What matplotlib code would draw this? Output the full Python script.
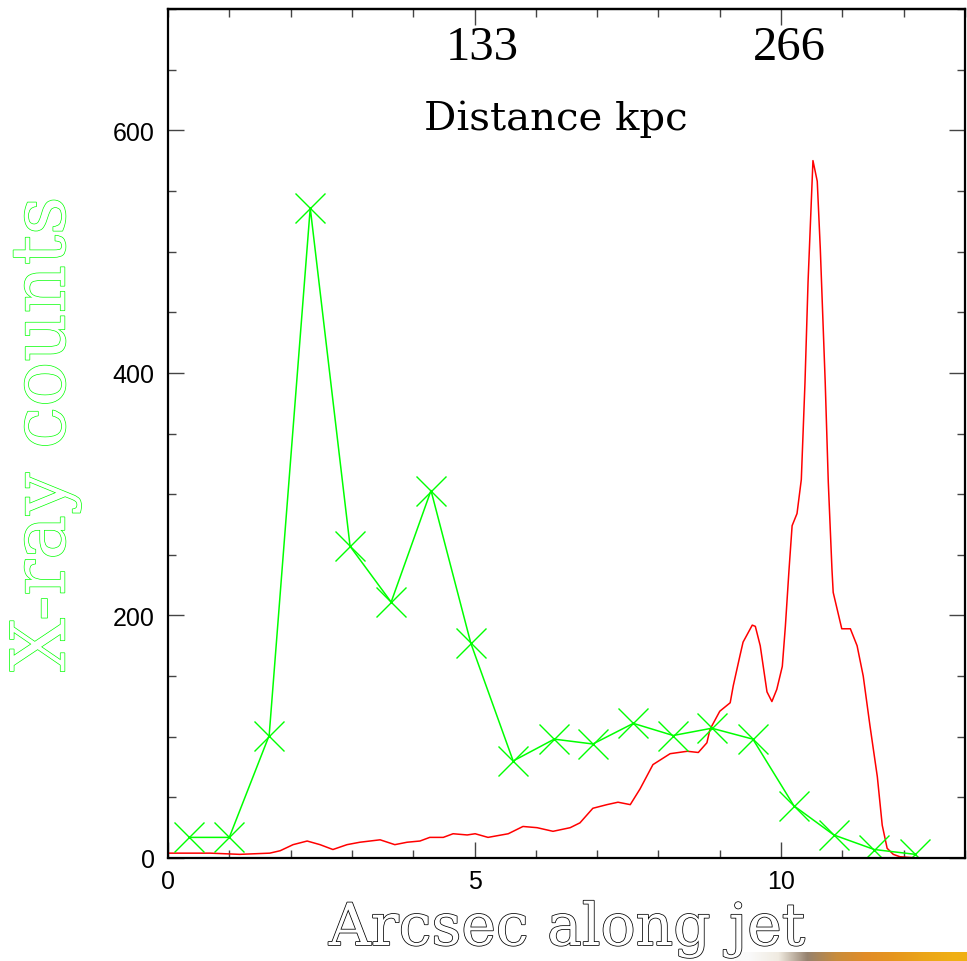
import numpy as np
import matplotlib.pyplot as plt
import matplotlib.patheffects as pe
import matplotlib.transforms as mtransforms
from matplotlib.ticker import MultipleLocator

# X-ray counts, binned along the jet (green crosses)
xray_pos = [0.34, 1.00, 1.65, 2.32, 2.97, 3.64, 4.29, 4.94, 5.63, 6.30,
            6.93, 7.59, 8.24, 8.87, 9.54, 10.21, 10.86, 11.52, 12.19]
xray_counts = [17, 17, 101, 536, 257, 211, 303, 177, 80, 98,
               94, 111, 101, 107, 98, 43, 19, 7, 3]

# radio profile along the jet (red line)
radio_pos = [0.0, 0.05, 0.69, 1.17, 1.66, 1.83, 2.04, 2.27, 2.48, 2.69,
             2.92, 3.13, 3.46, 3.70, 3.90, 4.11, 4.27, 4.49, 4.65, 4.88,
             5.01, 5.22, 5.55, 5.79, 6.02, 6.28, 6.56, 6.72, 6.93, 7.16,
             7.34, 7.54, 7.70, 7.91, 8.19, 8.47, 8.65, 8.79, 8.84, 9.00,
             9.17, 9.22, 9.33, 9.38, 9.53, 9.58, 9.66, 9.77, 9.85, 9.93,
             10.02, 10.07, 10.13, 10.18, 10.26, 10.33, 10.39, 10.44, 10.52, 10.59,
             10.64, 10.72, 10.77, 10.83, 10.85, 10.99, 11.13, 11.24, 11.34, 11.45,
             11.57, 11.65, 11.73, 11.83, 11.94, 12.23]
radio_flux = [4, 4, 4, 3, 4, 6, 11, 14, 11, 7,
              11, 13, 15, 11, 13, 14, 17, 17, 20, 19,
              20, 17, 20, 26, 25, 22, 25, 29, 41, 44,
              46, 44, 57, 77, 86, 88, 87, 95, 106, 121,
              128, 142, 167, 178, 192, 191, 175, 137, 129, 139,
              158, 191, 238, 274, 284, 312, 392, 475, 575, 558,
              502, 392, 310, 238, 219, 189, 189, 175, 150, 109,
              67, 27, 8, 3, 1, 0]

kpc_per_arcsec = 26.6
top_ticks = [133, 266]

fig = plt.figure(figsize=(9.67, 9.62), dpi=100)
ax = fig.add_axes([168 / 967, 1 - 859 / 962, 797 / 967, 849 / 962])

ax.plot(radio_pos, radio_flux, color='#ff0000', lw=1.1)
ax.plot(xray_pos, xray_counts, color='#00ff00', lw=1.1, marker='x',
        markersize=22, markeredgewidth=1.0)

ax.set_xlim(0, 13)
ax.set_ylim(0, 700)

for s in ax.spines.values():
    s.set_linewidth(1.6)

ax.xaxis.set_major_locator(MultipleLocator(5))
ax.xaxis.set_minor_locator(MultipleLocator(1))
ax.yaxis.set_major_locator(MultipleLocator(200))
ax.yaxis.set_minor_locator(MultipleLocator(50))
ax.tick_params(which='both', direction='in', right=True, width=1.0,
               color='#444444', labelsize=18, labelfontfamily='Liberation Sans')
ax.tick_params(which='major', length=11.5)
ax.tick_params(which='minor', length=5.8)
ax.tick_params(axis='x', pad=8)
ax.tick_params(axis='y', pad=9.5)

# distance scale on top
top = ax.secondary_xaxis('top', functions=(lambda x: x * kpc_per_arcsec,
                                           lambda d: d / kpc_per_arcsec))
top.set_xticks(top_ticks)
top.set_xticklabels([str(t) for t in top_ticks], family='Liberation Serif',
                    fontsize=35)
top.xaxis.set_minor_locator(MultipleLocator(kpc_per_arcsec))
top.tick_params(which='both', direction='in', width=1.0, color='#444444', pad=-43)
top.tick_params(which='major', length=11.5)
top.tick_params(which='minor', length=5.8)
top.spines['top'].set_linewidth(1.6)
shift = mtransforms.ScaledTranslation(0.08, 0, fig.dpi_scale_trans)
for lab in top.get_xticklabels():
    lab.set_transform(lab.get_transform() + shift)

ax.text(0.487, 0.871, 'Distance kpc', transform=ax.transAxes, ha='center',
        va='center', family='DejaVu Serif', fontsize=29)

outline = [pe.Stroke(linewidth=1.1, foreground='black'), pe.Normal()]
fig.text(567 / 967, 1 - 946 / 962, 'Arcsec along jet', ha='center', va='baseline',
         family='DejaVu Serif', fontsize=42, color='white', path_effects=outline)

outline_g = [pe.Stroke(linewidth=1.0, foreground='#00ff00'), pe.Normal()]
fig.text(45 / 967, 1 - 435 / 962, 'X-ray counts', ha='center', va='center',
         rotation=90, family='DejaVu Serif', fontsize=54, color='white',
         path_effects=outline_g)

# strip of another image peeking in at the bottom right
strip = fig.add_axes([735 / 967, 0, 232 / 967, 9 / 962])
strip_cols = np.array([[[250, 250, 250], [240, 235, 225], [150, 130, 110], [200, 140, 60],
                        [225, 140, 40], [230, 150, 30], [235, 165, 25], [240, 175, 20]]]) / 255
strip.imshow(strip_cols, aspect='auto', interpolation='bilinear')
strip.axis('off')

fig.savefig('out.png', dpi=100)
